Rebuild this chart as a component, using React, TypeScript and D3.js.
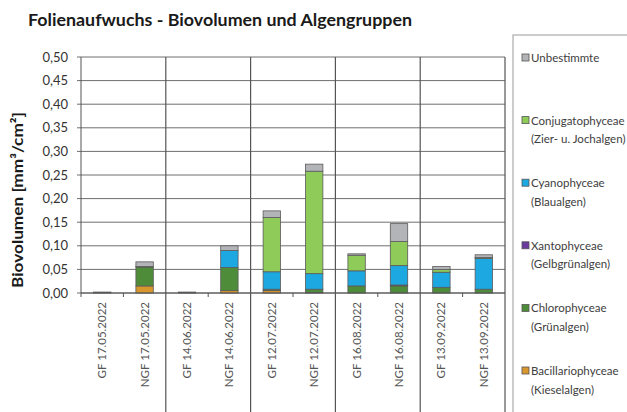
import React from "react";
import * as d3 from "d3";

// Sampling dates (GF / NGF per date)
const categories = [
  "GF 17.05.2022", "NGF 17.05.2022",
  "GF 14.06.2022", "NGF 14.06.2022",
  "GF 12.07.2022", "NGF 12.07.2022",
  "GF 16.08.2022", "NGF 16.08.2022",
  "GF 13.09.2022", "NGF 13.09.2022",
];

// Biovolume per algal group [mm³/cm²], stacked bottom to top
const bacillariophyceae = [0.001, 0.015, 0.001, 0.005, 0.005, 0.001, 0, 0, 0, 0];
const chlorophyceae = [0.001, 0.040, 0.001, 0.049, 0.003, 0.007, 0.015, 0.015, 0.012, 0.008];
const xantophyceae = [0, 0.001, 0, 0, 0, 0, 0, 0.002, 0, 0];
const cyanophyceae = [0, 0, 0, 0.036, 0.037, 0.033, 0.032, 0.041, 0.032, 0.065];
const conjugatophyceae = [0, 0, 0, 0, 0.115, 0.217, 0.033, 0.051, 0.006, 0.002];
const unbestimmte = [0, 0.010, 0, 0.010, 0.014, 0.015, 0.003, 0.038, 0.006, 0.006];

const yTicks = [0, 0.05, 0.1, 0.15, 0.2, 0.25, 0.3, 0.35, 0.4, 0.45, 0.5];

const seriesKeys = ["bac", "chl", "xan", "cya", "con", "unb"];
const seriesValues: Record<string, number[]> = {
  bac: bacillariophyceae,
  chl: chlorophyceae,
  xan: xantophyceae,
  cya: cyanophyceae,
  con: conjugatophyceae,
  unb: unbestimmte,
};
const seriesColors: Record<string, string> = {
  bac: "#D8972C",
  chl: "#4E8C3A",
  xan: "#6A3A9C",
  cya: "#1DA8E2",
  con: "#8FCB58",
  unb: "#B3B4B8",
};

// Legend, top to bottom
const legendItems = [
  { key: "unb", lines: ["Unbestimmte"] },
  { key: "con", lines: ["Conjugatophyceae", "(Zier- u. Jochalgen)"] },
  { key: "cya", lines: ["Cyanophyceae", "(Blaualgen)"] },
  { key: "xan", lines: ["Xantophyceae", "(Gelbgrünalgen)"] },
  { key: "chl", lines: ["Chlorophyceae", "(Grünalgen)"] },
  { key: "bac", lines: ["Bacillariophyceae", "(Kieselalgen)"] },
];

const W = 627;
const H = 412;
const plotLeft = 81;
const plotRight = 505;
const plotTop = 57;
const plotBottom = 293;
const font = "Lato, 'Open Sans', sans-serif";

export default function App() {
  const x = d3
    .scaleBand<string>()
    .domain(categories)
    .range([plotLeft, plotRight])
    .paddingInner(0.59)
    .paddingOuter(0.295);
  const y = d3.scaleLinear().domain([0, 0.5]).range([plotBottom, plotTop]);

  const table = categories.map((c, i) => {
    const row: Record<string, any> = { cat: c };
    seriesKeys.forEach((k) => (row[k] = seriesValues[k][i]));
    return row;
  });
  const stacked = d3.stack<any>().keys(seriesKeys)(table);

  const step = x.step();
  const groupLines = d3.range(2, categories.length + 1, 2).map((i) => plotLeft + step * i);
  const midTicks = d3.range(1, categories.length, 2).map((i) => plotLeft + step * i);

  return (
    <svg
      width={W}
      height={H}
      style={{ position: "absolute", left: 0, top: 0, background: "#fff" }}
      fontFamily={font}
    >
      <rect width={W} height={H} fill="#fff" />
      <text x={28} y={26} fontSize={17} fontWeight={700} fill="#1a1a1a" textLength={384} lengthAdjust="spacingAndGlyphs">
        Folienaufwuchs - Biovolumen und Algengruppen
      </text>

      {/* horizontal gridlines and y ticks */}
      {yTicks.map((t) => (
        <g key={t}>
          <line x1={plotLeft - 4} x2={plotRight} y1={y(t)} y2={y(t)} stroke="#6e6e6e" strokeWidth={1} />
          <text x={68} y={y(t) + 4.5} fontSize={13} fill="#333" textAnchor="end">
            {d3.format(".2f")(t).replace(".", ",")}
          </text>
        </g>
      ))}

      {/* y axis */}
      <line x1={plotLeft} x2={plotLeft} y1={plotTop} y2={plotBottom + 4} stroke="#555" strokeWidth={1} />

      {/* group separators */}
      {groupLines.map((gx) => (
        <line key={gx} x1={gx} x2={gx} y1={plotTop} y2={H} stroke="#555" strokeWidth={1.2} />
      ))}
      {midTicks.map((mx) => (
        <line key={mx} x1={mx} x2={mx} y1={plotBottom} y2={plotBottom + 4} stroke="#555" strokeWidth={1} />
      ))}

      {/* stacked bars */}
      {stacked.map((s) => (
        <g key={s.key} fill={seriesColors[s.key]}>
          {s.map((d, i) =>
            d[1] - d[0] > 0 ? (
              <rect
                key={i}
                x={x(categories[i])}
                width={x.bandwidth()}
                y={y(d[1])}
                height={y(d[0]) - y(d[1])}
                stroke="#5a5a5a"
                strokeWidth={0.8}
              />
            ) : null
          )}
        </g>
      ))}

      {/* x axis */}
      <line x1={plotLeft} x2={plotRight} y1={plotBottom} y2={plotBottom} stroke="#555" strokeWidth={1} />

      {/* category labels */}
      {categories.map((c) => {
        const cx = (x(c) as number) + x.bandwidth() / 2;
        return (
          <text
            key={c}
            transform={`translate(${cx + 4},${plotBottom + 9}) rotate(-90)`}
            fontSize={11.5}
            fill="#555"
            textAnchor="end"
          >
            {c}
          </text>
        );
      })}

      {/* y axis title */}
      <text
        transform={`translate(23,200) rotate(-90)`}
        fontSize={15}
        fontWeight={700}
        fill="#1a1a1a"
        textAnchor="middle"
        textLength={176}
        lengthAdjust="spacingAndGlyphs"
      >
        Biovolumen [mm³/cm²]
      </text>

      {/* legend */}
      <rect x={513} y={35} width={200} height={400} fill="#fff" stroke="#9a9a9a" strokeWidth={1} />
      {legendItems.map((item, i) => {
        const ly = 62 + i * 62.6;
        return (
          <g key={item.key}>
            <rect x={522} y={ly - 8} width={7} height={7} fill={seriesColors[item.key]} stroke="#555" strokeWidth={0.8} />
            {item.lines.map((ln, j) => (
              <text key={j} x={531} y={ly + j * 18.5} fontSize={11.5} fill="#404040">
                {ln}
              </text>
            ))}
          </g>
        );
      })}
    </svg>
  );
}
